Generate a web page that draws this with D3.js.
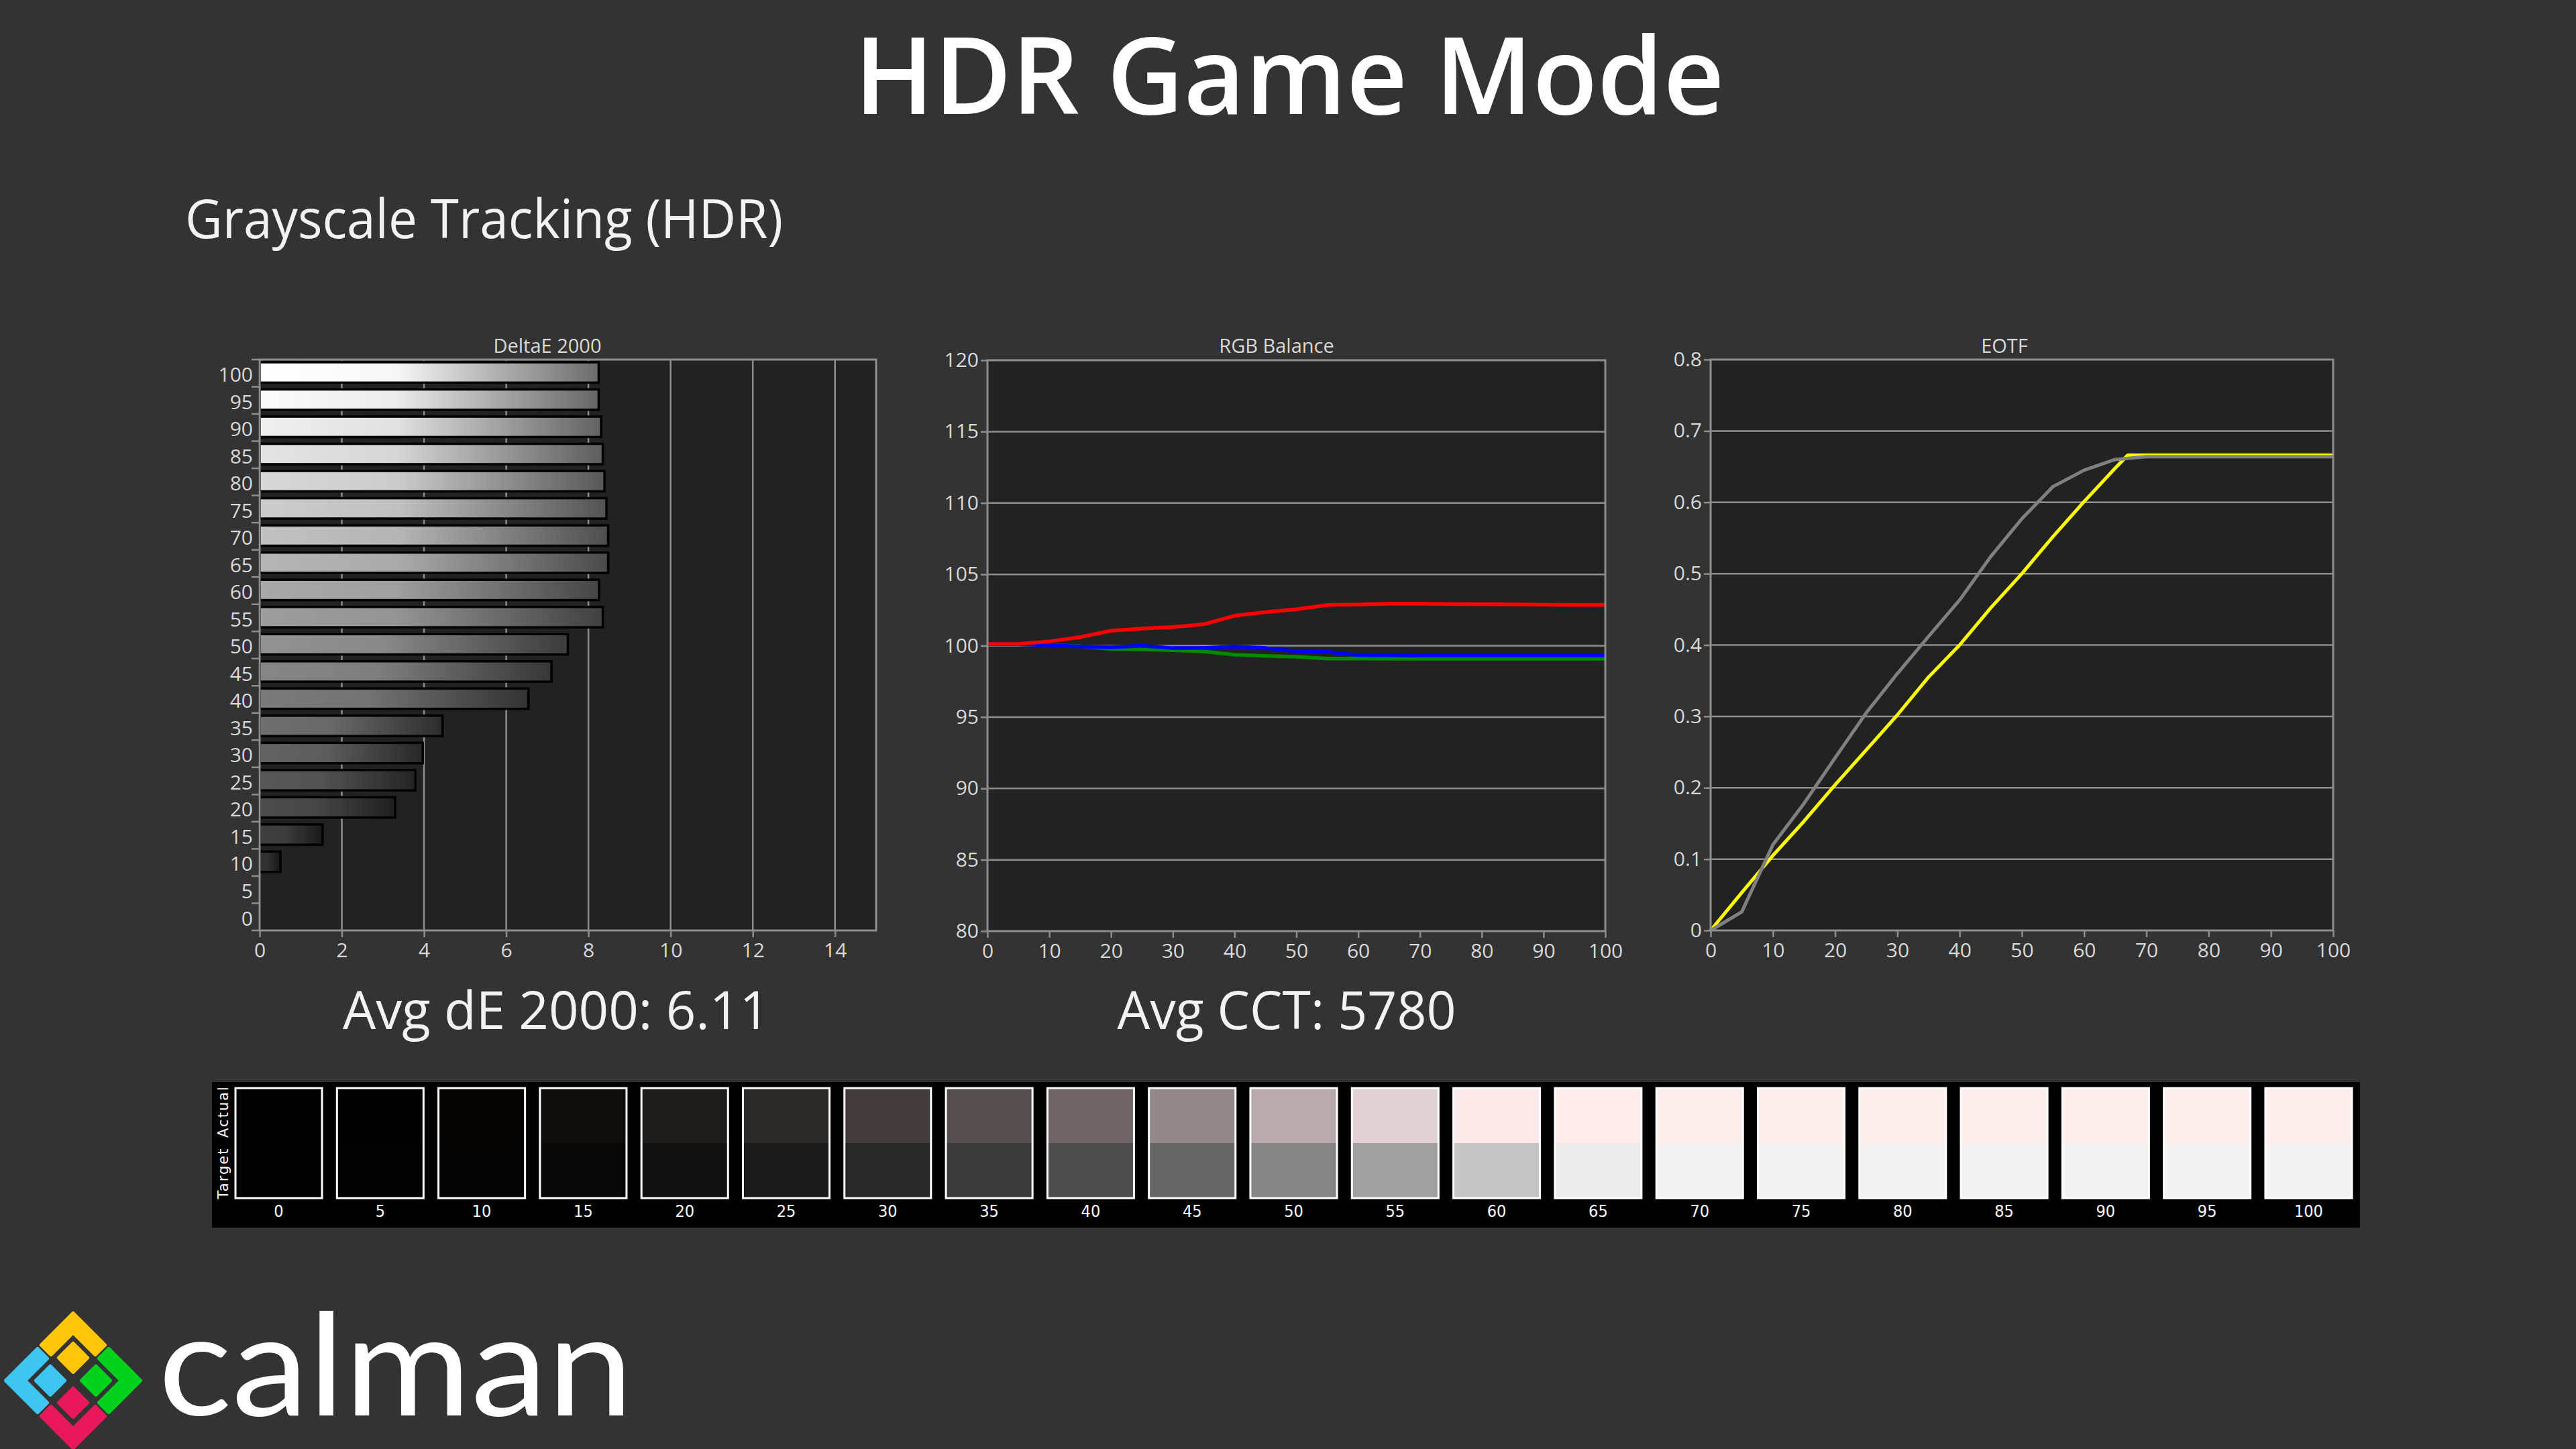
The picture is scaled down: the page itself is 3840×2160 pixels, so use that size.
<!DOCTYPE html>
<html><head><meta charset="utf-8">
<script src="https://cdn.jsdelivr.net/npm/d3@7/dist/d3.min.js"></script>
<style>
html,body{margin:0;padding:0;background:#333333;}
svg{display:block;}
</style></head>
<body>
<svg id="c" width="3840" height="2160"></svg>
<script>
// ---------- DATA ----------
const deLevels = [100,95,90,85,80,75,70,65,60,55,50,45,40,35,30,25,20,15,10,5,0];
const deValues = [8.25,8.25,8.31,8.35,8.39,8.44,8.48,8.48,8.26,8.35,7.50,7.10,6.54,4.45,3.97,3.79,3.30,1.53,0.51,0,0];
const deTicks = [0,2,4,6,8,10,12,14];

const rgbX = [0,5,10,15,20,25,30,35,40,45,50,55,60,65,70,75,80,85,90,95,100];
const redVals   = [100.12,100.12,100.30,100.60,101.05,101.20,101.30,101.50,102.10,102.35,102.55,102.85,102.88,102.94,102.94,102.92,102.90,102.89,102.87,102.86,102.85];
const greenVals = [100.10,100.10,100.05,99.97,99.77,99.74,99.68,99.60,99.37,99.28,99.22,99.10,99.10,99.08,99.08,99.08,99.08,99.08,99.08,99.08,99.08];
const blueVals  = [100.10,100.10,100.03,99.94,99.88,100.00,99.83,99.83,99.94,99.83,99.60,99.57,99.34,99.34,99.31,99.31,99.31,99.31,99.31,99.31,99.31];
const rgbYTicks = [80,85,90,95,100,105,110,115,120];
const pctTicks = [0,10,20,30,40,50,60,70,80,90,100];

const eotfX = [0,5,10,15,20,25,30,35,40,45,50,55,60,65,70,75,80,85,90,95,100];
const eotfMeasured = [0,0.026,0.120,0.178,0.242,0.305,0.360,0.412,0.463,0.524,0.577,0.622,0.645,0.660,0.664,0.664,0.664,0.664,0.664,0.664,0.664];
const eotfTargetX = [0,5,10,15,20,25,30,35,40,45,50,55,60,65,67,70,75,80,85,90,95,100];
const eotfTarget = [0,0.053,0.105,0.153,0.204,0.253,0.302,0.355,0.400,0.452,0.500,0.552,0.601,0.648,0.666,0.666,0.666,0.666,0.666,0.666,0.666,0.666];
const eotfYTicks = [0,0.1,0.2,0.3,0.4,0.5,0.6,0.7,0.8];

const swatchLevels = [0,5,10,15,20,25,30,35,40,45,50,55,60,65,70,75,80,85,90,95,100];
const actualColors = ["#000000","#000000","#050403","#100c0b","#1f1b1b","#2e2929","#433c3c","#574f4f","#716465","#958889","#b8aaaa","#e2d2d3","#fbe9ea","#ffeded","#ffeeee","#ffeeee","#ffeeee","#ffeeee","#ffeeee","#ffeeee","#ffeeee"];
const targetColors = ["#000000","#020202","#040404","#080808","#121212","#1b1b1b","#272727","#3a3a3a","#4d4d4d","#666666","#858585","#a0a0a0","#c6c6c6","#ebebeb","#f2f2f2","#f2f2f2","#f2f2f2","#f2f2f2","#f2f2f2","#f2f2f2","#f2f2f2"];

const avgDE = "6.11";
const avgCCT = "5780";

// ---------- DRAW ----------
const svg = d3.select("#c");
const FONT = "'Open Sans', 'Noto Sans', sans-serif";
const GRID = "#8e8e8e", PLOTBG = "#222222", TICKTXT = "#d8d8d8";

svg.append("rect").attr("width",3840).attr("height",2160).attr("fill","#333333");

svg.append("text").attr("x",1922).attr("y",170).attr("text-anchor","middle")
  .attr("font-family",FONT).attr("font-weight",600).attr("font-size",160).attr("fill","#ffffff")
  .attr("textLength",1297).attr("lengthAdjust","spacingAndGlyphs").text("HDR Game Mode");
svg.append("text").attr("x",276).attr("y",355)
  .attr("font-family",FONT).attr("font-size",80).attr("fill","#f2f2f2")
  .attr("textLength",891).attr("lengthAdjust","spacingAndGlyphs").text("Grayscale Tracking (HDR)");

function styleAxis(g){
  g.select(".domain").remove();
  g.selectAll(".tick line").attr("stroke",GRID).attr("stroke-width",2.5);
  g.selectAll(".tick text").attr("fill",TICKTXT).attr("font-family",FONT).attr("font-size",30);
}
function chartTitle(cx, txt){
  svg.append("text").attr("x",cx).attr("y",526).attr("text-anchor","middle")
    .attr("font-family",FONT).attr("font-size",29).attr("fill",TICKTXT).text(txt);
}

// ===== DeltaE chart =====
{
  const L=387,R=1306,T=536,B=1387;
  const x = d3.scaleLinear().domain([0,15]).range([L,R]);
  const y = d3.scaleBand().domain(deLevels).range([T,B]).paddingInner(0).paddingOuter(0);
  chartTitle(816,"DeltaE 2000");
  svg.append("rect").attr("x",L).attr("y",T).attr("width",R-L).attr("height",B-T).attr("fill",PLOTBG);
  svg.append("g").selectAll("line").data(deTicks.filter(d=>d>0)).join("line")
    .attr("x1",d=>x(d)).attr("x2",d=>x(d)).attr("y1",T).attr("y2",B)
    .attr("stroke",GRID).attr("stroke-width",2.5);
  const defs = svg.append("defs");
  const shade = d3.scaleLinear().domain([0,100]).range([28,255]);
  deLevels.forEach((lv,i)=>{
    const c = shade(lv);
    const g = defs.append("linearGradient").attr("id","bg"+i).attr("x1","0").attr("x2","1").attr("y1","0").attr("y2","0");
    const col = v=>d3.rgb(v,v,v).toString();
    g.append("stop").attr("offset","0%").attr("stop-color",col(Math.min(255,c*1.03)));
    g.append("stop").attr("offset","40%").attr("stop-color",col(c*0.97));
    g.append("stop").attr("offset","100%").attr("stop-color",col(c*0.42));
  });
  const bh = y.bandwidth()*0.75;
  svg.append("g").selectAll("rect").data(deLevels.map((lv,i)=>({lv,v:deValues[i],i})).filter(d=>d.v>0)).join("rect")
    .attr("x",x(0)).attr("y",d=>y(d.lv)+4).attr("width",d=>x(d.v)-x(0)).attr("height",bh)
    .attr("fill",d=>"url(#bg"+d.i+")").attr("stroke","#000").attr("stroke-width",3.5);
  svg.append("rect").attr("x",L).attr("y",T).attr("width",R-L).attr("height",B-T)
    .attr("fill","none").attr("stroke",GRID).attr("stroke-width",3);
  svg.append("g").selectAll("text").data(deLevels).join("text")
    .attr("x",L-10).attr("y",d=>y(d)+y.bandwidth()/2+2).attr("dy","0.36em").attr("text-anchor","end")
    .attr("font-family",FONT).attr("font-size",30).attr("fill",TICKTXT).text(d=>d);
  svg.append("g").selectAll("line").data(deLevels).join("line")
    .attr("x1",L-12).attr("x2",L).attr("y1",d=>y(d)+y.bandwidth()).attr("y2",d=>y(d)+y.bandwidth())
    .attr("stroke",GRID).attr("stroke-width",2.5);
  svg.append("line").attr("x1",L-12).attr("x2",L).attr("y1",T).attr("y2",T).attr("stroke",GRID).attr("stroke-width",2.5);
  const gx = svg.append("g").attr("transform",`translate(0,${B})`)
    .call(d3.axisBottom(x).tickValues(deTicks).tickSize(10).tickPadding(9));
  styleAxis(gx);
  svg.append("text").attr("x",829).attr("y",1534).attr("text-anchor","middle")
    .attr("font-family",FONT).attr("font-size",78).attr("fill","#f2f2f2")
    .attr("textLength",636).attr("lengthAdjust","spacingAndGlyphs").text("Avg dE 2000: "+avgDE);
}

// ===== RGB Balance =====
{
  const L=1472,R=2393,T=537,B=1388;
  const x = d3.scaleLinear().domain([0,100]).range([L,R]);
  const y = d3.scaleLinear().domain([80,120]).range([B,T]);
  chartTitle(1903,"RGB Balance");
  svg.append("rect").attr("x",L).attr("y",T).attr("width",R-L).attr("height",B-T).attr("fill",PLOTBG);
  svg.append("g").selectAll("line").data(rgbYTicks.slice(1,-1)).join("line")
    .attr("x1",L).attr("x2",R).attr("y1",d=>y(d)).attr("y2",d=>y(d)).attr("stroke",GRID).attr("stroke-width",2.5);
  const line = d3.line().x((d,i)=>x(rgbX[i])).y(d=>y(d));
  [[greenVals,"#008a00"],[blueVals,"#0000ff"],[redVals,"#ff0000"]].forEach(([vals,c])=>{
    svg.append("path").attr("d",line(vals)).attr("fill","none").attr("stroke",c).attr("stroke-width",5.5).attr("stroke-linejoin","round");
  });
  svg.append("rect").attr("x",L).attr("y",T).attr("width",R-L).attr("height",B-T)
    .attr("fill","none").attr("stroke",GRID).attr("stroke-width",3);
  const gy = svg.append("g").attr("transform",`translate(${L},0)`)
    .call(d3.axisLeft(y).tickValues(rgbYTicks).tickSize(10).tickPadding(3));
  styleAxis(gy);
  const gx = svg.append("g").attr("transform",`translate(0,${B})`)
    .call(d3.axisBottom(x).tickValues(pctTicks).tickSize(10).tickPadding(9));
  styleAxis(gx);
  svg.append("text").attr("x",1918).attr("y",1534).attr("text-anchor","middle")
    .attr("font-family",FONT).attr("font-size",78).attr("fill","#f2f2f2")
    .attr("textLength",505).attr("lengthAdjust","spacingAndGlyphs").text("Avg CCT: "+avgCCT);
}

// ===== EOTF =====
{
  const L=2550,R=3478,T=536,B=1387;
  const x = d3.scaleLinear().domain([0,100]).range([L,R]);
  const y = d3.scaleLinear().domain([0,0.8]).range([B,T]);
  chartTitle(2988,"EOTF");
  svg.append("rect").attr("x",L).attr("y",T).attr("width",R-L).attr("height",B-T).attr("fill",PLOTBG);
  svg.append("g").selectAll("line").data(eotfYTicks.slice(1,-1)).join("line")
    .attr("x1",L).attr("x2",R).attr("y1",d=>y(d)).attr("y2",d=>y(d)).attr("stroke",GRID).attr("stroke-width",2.5);
  svg.append("path").attr("d",d3.line().x((d,i)=>x(eotfTargetX[i])).y(d=>y(d))(eotfTarget))
    .attr("fill","none").attr("stroke","#ffff00").attr("stroke-width",5).attr("stroke-linejoin","round");
  svg.append("path").attr("d",d3.line().x((d,i)=>x(eotfX[i])).y(d=>y(d))(eotfMeasured))
    .attr("fill","none").attr("stroke","#808080").attr("stroke-width",5).attr("stroke-linejoin","round");
  svg.append("rect").attr("x",L).attr("y",T).attr("width",R-L).attr("height",B-T)
    .attr("fill","none").attr("stroke",GRID).attr("stroke-width",3);
  const gy = svg.append("g").attr("transform",`translate(${L},0)`)
    .call(d3.axisLeft(y).tickValues(eotfYTicks).tickSize(10).tickPadding(3).tickFormat(d=>d===0?"0":d3.format(".1f")(d)));
  styleAxis(gy);
  const gx = svg.append("g").attr("transform",`translate(0,${B})`)
    .call(d3.axisBottom(x).tickValues(pctTicks).tickSize(10).tickPadding(9));
  styleAxis(gx);
}

// ===== Swatch strip =====
{
  svg.append("rect").attr("x",316).attr("y",1613).attr("width",3518-316).attr("height",1830-1613).attr("fill","#000");
  const xs = d3.scaleBand().domain(swatchLevels).range([351,3506]).paddingInner(0.147).paddingOuter(0);
  const top=1622, mid=1704, bot=1786;
  const g = svg.append("g");
  swatchLevels.forEach((lv,i)=>{
    g.append("rect").attr("x",xs(lv)).attr("y",top).attr("width",xs.bandwidth()).attr("height",mid-top).attr("fill",actualColors[i]);
    g.append("rect").attr("x",xs(lv)).attr("y",mid).attr("width",xs.bandwidth()).attr("height",bot-mid).attr("fill",targetColors[i]);
    g.append("rect").attr("x",xs(lv)).attr("y",top).attr("width",xs.bandwidth()).attr("height",bot-top)
      .attr("fill","none").attr("stroke","#ffffff").attr("stroke-width",3);
    g.append("text").attr("x",xs(lv)+xs.bandwidth()/2).attr("y",1805).attr("dy","0.36em").attr("text-anchor","middle")
      .attr("font-family","'Liberation Sans Narrow','DejaVu Sans Condensed',sans-serif").attr("font-size",25).attr("fill","#ffffff").text(lv);
  });
  [["Actual",1657],["Target",1749]].forEach(([t,cy])=>{
    svg.append("text").attr("transform",`translate(333,${cy}) rotate(-90)`).attr("text-anchor","middle").attr("dy","0.35em")
      .attr("font-family","'DejaVu Sans',sans-serif").attr("font-size",21).attr("letter-spacing",2).attr("fill","#ffffff").text(t);
  });
}

// ===== Logo =====
{
  const g = svg.append("g").attr("transform","translate(109,2058)");
  const chevron = [[0,-100],[47,-53],[33,-39],[0,-72],[-33,-39],[-47,-53]];
  const rot = (pts,a)=>pts.map(([px,py])=>{const r=a*Math.PI/180;return [px*Math.cos(r)-py*Math.sin(r), px*Math.sin(r)+py*Math.cos(r)];});
  const pl = pts=>"M"+pts.map(p=>p.join(",")).join("L")+"Z";
  const cols = ["#ffc60a","#00d21e","#e8185a","#3ec6f2"]; // top,right,bottom,left
  cols.forEach((c,k)=>{
    g.append("path").attr("d",pl(rot(chevron,90*k))).attr("fill",c).attr("stroke",c).attr("stroke-width",6).attr("stroke-linejoin","round");
  });
  const dia = (cx,cy,r)=>[[cx,cy-r],[cx+r,cy],[cx,cy+r],[cx-r,cy]];
  [[0,-34,"#ffc60a"],[34,0,"#00d21e"],[0,33,"#e8185a"],[-34,0,"#3ec6f2"]].forEach(([cx,cy,c])=>{
    g.append("path").attr("d",pl(dia(cx,cy,21))).attr("fill",c).attr("stroke",c).attr("stroke-width",6).attr("stroke-linejoin","round");
  });
  svg.append("text").attr("x",236).attr("y",2110).attr("font-family","Lato, 'Open Sans', sans-serif").attr("font-weight",400)
    .attr("font-size",212).attr("fill","#ffffff").attr("textLength",708).attr("lengthAdjust","spacingAndGlyphs").text("calman");
}
</script>
</body></html>
